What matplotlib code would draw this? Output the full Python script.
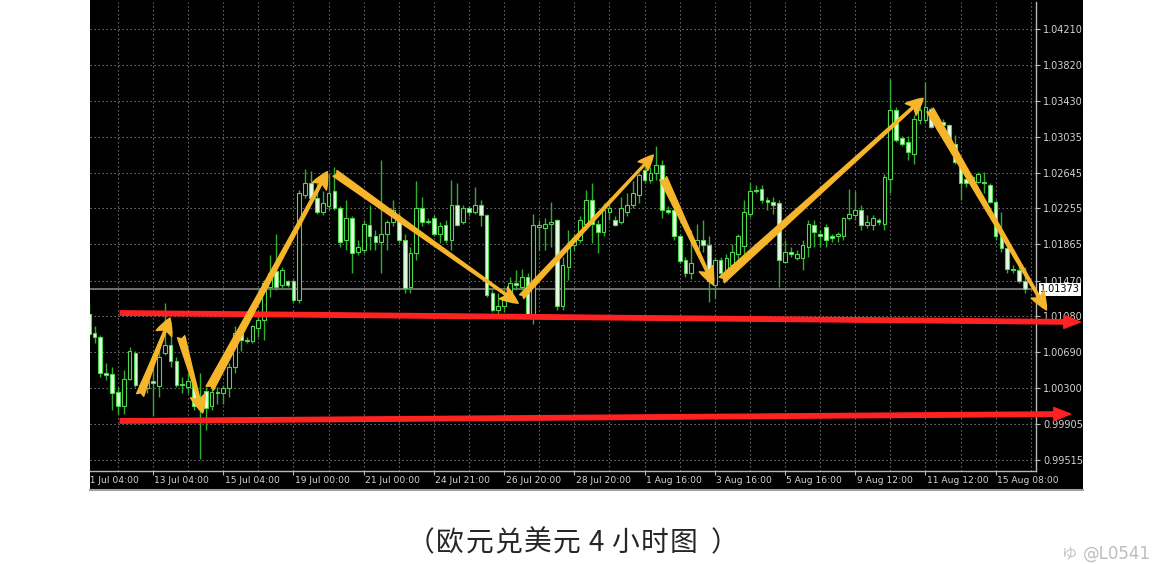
"""EUR/USD 4h candlestick chart with hand-drawn trend arrows (MT4 style)."""
import matplotlib.pyplot as plt
from matplotlib.patches import Rectangle, FancyArrowPatch
from matplotlib.transforms import blended_transform_factory

# ---- data -----------------------------------------------------------------
first_bar = 1
opens = [
    1.0111, 1.0090, 1.0086, 1.0046, 1.0045, 1.0026, 1.0010, 1.0040, 1.0068, 1.0033,
    1.0030, 1.0037, 1.0032, 1.0068, 1.0077, 1.0059, 1.0033, 1.0031, 1.0035, 1.0010,
    1.0027, 1.0010, 1.0026, 1.0024, 1.0030, 1.0053, 1.0090, 1.0082, 1.0081, 1.0095,
    1.0104, 1.0140, 1.0157, 1.0142, 1.0146, 1.0146, 1.0126, 1.0240, 1.0253, 1.0237,
    1.0222, 1.0228, 1.0244, 1.0226, 1.0191, 1.0215, 1.0178, 1.0180, 1.0208, 1.0195,
    1.0189, 1.0198, 1.0211, 1.0215, 1.0191, 1.0140, 1.0177, 1.0226, 1.0211, 1.0215,
    1.0198, 1.0208, 1.0191, 1.0229, 1.0211, 1.0226, 1.0222, 1.0229, 1.0218, 1.0133,
    1.0115, 1.0119, 1.0128, 1.0144, 1.0140, 1.0151, 1.0110, 1.0205, 1.0204, 1.0209,
    1.0213, 1.0119, 1.0162, 1.0186, 1.0191, 1.0209, 1.0235, 1.0209, 1.0200, 1.0222,
    1.0213, 1.0211, 1.0222, 1.0229, 1.0240, 1.0267, 1.0257, 1.0264, 1.0273, 1.0224,
    1.0224, 1.0195, 1.0169, 1.0155, 1.0182, 1.0191, 1.0186, 1.0142, 1.0169, 1.0155,
    1.0164, 1.0176, 1.0185, 1.0220, 1.0245, 1.0247, 1.0235, 1.0233, 1.0231, 1.0167,
    1.0178, 1.0171, 1.0171, 1.0184, 1.0207, 1.0198, 1.0205, 1.0195, 1.0195, 1.0196,
    1.0215, 1.0218, 1.0224, 1.0207, 1.0207, 1.0213, 1.0209, 1.0258, 1.0333, 1.0302,
    1.0298, 1.0285, 1.0322, 1.0322, 1.0334, 1.0316, 1.0320, 1.0316, 1.0296, 1.0274,
    1.0258, 1.0254, 1.0254, 1.0254, 1.0251, 1.0233, 1.0195, 1.0182, 1.0160, 1.0158,
    1.0146,
]
highs = [
    1.0122, 1.0097, 1.0088, 1.0057, 1.0053, 1.0031, 1.0050, 1.0075, 1.0070, 1.0037,
    1.0046, 1.0068, 1.0075, 1.0122, 1.0097, 1.0064, 1.0042, 1.0046, 1.0039, 1.0046,
    1.0031, 1.0030, 1.0031, 1.0033, 1.0057, 1.0097, 1.0093, 1.0086, 1.0098, 1.0111,
    1.0148, 1.0175, 1.0198, 1.0162, 1.0148, 1.0149, 1.0246, 1.0269, 1.0266, 1.0257,
    1.0245, 1.0264, 1.0271, 1.0228, 1.0235, 1.0217, 1.0191, 1.0213, 1.0229, 1.0202,
    1.0278, 1.0213, 1.0235, 1.0222, 1.0198, 1.0184, 1.0255, 1.0238, 1.0215, 1.0218,
    1.0211, 1.0213, 1.0257, 1.0253, 1.0229, 1.0228, 1.0249, 1.0235, 1.0220, 1.0137,
    1.0133, 1.0137, 1.0151, 1.0159, 1.0160, 1.0155, 1.0220, 1.0213, 1.0215, 1.0233,
    1.0214, 1.0173, 1.0202, 1.0198, 1.0217, 1.0246, 1.0253, 1.0213, 1.0231, 1.0231,
    1.0217, 1.0238, 1.0242, 1.0255, 1.0264, 1.0278, 1.0271, 1.0293, 1.0278, 1.0228,
    1.0228, 1.0198, 1.0173, 1.0202, 1.0209, 1.0213, 1.0195, 1.0173, 1.0173, 1.0176,
    1.0187, 1.0198, 1.0235, 1.0253, 1.0251, 1.0251, 1.0238, 1.0238, 1.0235, 1.0191,
    1.0184, 1.0180, 1.0191, 1.0213, 1.0213, 1.0202, 1.0209, 1.0198, 1.0200, 1.0216,
    1.0247, 1.0245, 1.0229, 1.0218, 1.0218, 1.0215, 1.0263, 1.0367, 1.0336, 1.0304,
    1.0304, 1.0327, 1.0336, 1.0363, 1.0336, 1.0325, 1.0323, 1.0318, 1.0305, 1.0278,
    1.0263, 1.0262, 1.0265, 1.0265, 1.0253, 1.0235, 1.0222, 1.0184, 1.0164, 1.0164,
    1.0162,
]
lows = [
    1.0082, 1.0079, 1.0042, 1.0039, 1.0006, 1.0002, 1.0002, 1.0039, 1.0031, 1.0024,
    1.0024, 0.9999, 1.0020, 1.0066, 1.0053, 1.0031, 1.0024, 1.0024, 1.0006, 0.9953,
    0.9984, 1.0006, 1.0013, 1.0013, 1.0020, 1.0046, 1.0070, 1.0079, 1.0079, 1.0086,
    1.0082, 1.0129, 1.0137, 1.0139, 1.0140, 1.0124, 1.0122, 1.0237, 1.0235, 1.0220,
    1.0218, 1.0224, 1.0224, 1.0184, 1.0180, 1.0155, 1.0175, 1.0177, 1.0180, 1.0180,
    1.0155, 1.0180, 1.0206, 1.0188, 1.0133, 1.0133, 1.0169, 1.0206, 1.0209, 1.0195,
    1.0188, 1.0188, 1.0180, 1.0206, 1.0209, 1.0217, 1.0220, 1.0206, 1.0129, 1.0113,
    1.0111, 1.0113, 1.0124, 1.0137, 1.0137, 1.0108, 1.0100, 1.0180, 1.0180, 1.0184,
    1.0115, 1.0115, 1.0148, 1.0180, 1.0188, 1.0202, 1.0188, 1.0177, 1.0195, 1.0213,
    1.0206, 1.0209, 1.0217, 1.0226, 1.0231, 1.0253, 1.0253, 1.0257, 1.0215, 1.0220,
    1.0191, 1.0166, 1.0151, 1.0149, 1.0177, 1.0178, 1.0124, 1.0128, 1.0151, 1.0151,
    1.0158, 1.0169, 1.0176, 1.0216, 1.0242, 1.0231, 1.0224, 1.0220, 1.0140, 1.0166,
    1.0173, 1.0169, 1.0158, 1.0173, 1.0184, 1.0184, 1.0184, 1.0189, 1.0189, 1.0191,
    1.0213, 1.0213, 1.0202, 1.0204, 1.0202, 1.0207, 1.0202, 1.0242, 1.0298, 1.0293,
    1.0278, 1.0274, 1.0318, 1.0320, 1.0313, 1.0311, 1.0314, 1.0293, 1.0274, 1.0235,
    1.0249, 1.0253, 1.0253, 1.0242, 1.0231, 1.0191, 1.0178, 1.0155, 1.0155, 1.0144,
    1.0133,
]
closes = [
    1.0089, 1.0086, 1.0046, 1.0044, 1.0024, 1.0010, 1.0040, 1.0070, 1.0033, 1.0031,
    1.0037, 1.0035, 1.0064, 1.0077, 1.0059, 1.0033, 1.0034, 1.0037, 1.0010, 1.0013,
    1.0008, 1.0026, 1.0024, 1.0030, 1.0053, 1.0090, 1.0082, 1.0081, 1.0097, 1.0104,
    1.0144, 1.0155, 1.0140, 1.0158, 1.0142, 1.0126, 1.0242, 1.0253, 1.0237, 1.0222,
    1.0231, 1.0242, 1.0226, 1.0189, 1.0215, 1.0177, 1.0184, 1.0209, 1.0195, 1.0189,
    1.0198, 1.0211, 1.0224, 1.0191, 1.0139, 1.0177, 1.0226, 1.0211, 1.0212, 1.0198,
    1.0206, 1.0191, 1.0229, 1.0208, 1.0226, 1.0222, 1.0229, 1.0218, 1.0131, 1.0115,
    1.0119, 1.0128, 1.0144, 1.0142, 1.0151, 1.0110, 1.0208, 1.0208, 1.0209, 1.0211,
    1.0119, 1.0164, 1.0188, 1.0193, 1.0213, 1.0235, 1.0209, 1.0200, 1.0224, 1.0226,
    1.0208, 1.0226, 1.0229, 1.0242, 1.0262, 1.0257, 1.0264, 1.0273, 1.0224, 1.0222,
    1.0195, 1.0168, 1.0155, 1.0166, 1.0191, 1.0186, 1.0146, 1.0169, 1.0155, 1.0171,
    1.0178, 1.0195, 1.0222, 1.0245, 1.0246, 1.0235, 1.0232, 1.0229, 1.0169, 1.0178,
    1.0176, 1.0176, 1.0186, 1.0209, 1.0200, 1.0196, 1.0191, 1.0193, 1.0198, 1.0215,
    1.0220, 1.0224, 1.0207, 1.0211, 1.0215, 1.0211, 1.0260, 1.0333, 1.0300, 1.0296,
    1.0287, 1.0323, 1.0333, 1.0336, 1.0314, 1.0318, 1.0316, 1.0296, 1.0276, 1.0253,
    1.0253, 1.0260, 1.0263, 1.0253, 1.0233, 1.0195, 1.0182, 1.0160, 1.0158, 1.0146,
    1.01373,
]

price_ticks = [1.04210, 1.03820, 1.03430, 1.03035, 1.02645, 1.02255, 1.01865,
               1.01470, 1.01080, 1.00690, 1.00300, 0.99905, 0.99515]
tick_bars = [0, 12, 24, 36, 48, 60, 72, 84, 96, 108, 120, 132, 144, 156]
tick_labels = ["11 Jul 04:00", "13 Jul 04:00", "15 Jul 04:00", "19 Jul 00:00",
               "21 Jul 00:00", "24 Jul 21:00", "26 Jul 20:00", "28 Jul 20:00",
               "1 Aug 16:00", "3 Aug 16:00", "5 Aug 16:00", "9 Aug 12:00",
               "11 Aug 12:00", "15 Aug 08:00"]
last_price = 1.01373

# support lines (bar, price) -> (bar, price)
support_lines = [
    ((6.4, 1.01116), (170.5, 1.01018)),
    ((6.4, 0.99940), (168.8, 1.00016)),
]
# swing arrows (bar, price) tail -> head
swing_arrows = [
    ((9.8, 1.00223), (14.9, 1.01062)),
    ((16.8, 1.00858), (20.5, 1.00027)),
    ((21.7, 1.00296), (41.8, 1.02656)),
    ((43.1, 1.02638), (74.4, 1.01222)),
    ((75.0, 1.01294), (97.5, 1.02837)),
    ((99.2, 1.02584), (107.8, 1.01421)),
    ((109.2, 1.01476), (143.6, 1.03455)),
    ((144.8, 1.03328), (164.7, 1.01149)),
]

caption_chars = ["（", "欧", "元", "兑", "美", "元", "4", "小", "时", "图", "）"]

# ---- layout helpers ---------------------------------------------------------
W, H = 1170, 564


def px_box(x0, y0, x1, y1):
    return [x0 / W, 1 - y1 / H, (x1 - x0) / W, (y1 - y0) / H]


WICK = "#2fae2f"
EDGE = "#4fd84f"
BEAR_FILL = "#e4fbe0"
AXIS_GREY = "#b8b8b8"
LABEL_GREY = "#d4d4d4"
GRID_GREY = "#7c7c7c"
ARROW_YELLOW = "#f6b52a"
ARROW_RED = "#ff2222"

fig = plt.figure(figsize=(W / 100, H / 100), dpi=100)
fig.patch.set_facecolor("white")

frame = fig.add_axes(px_box(90, 0, 1083, 490))
frame.set_facecolor("black")
frame.set_xticks([])
frame.set_yticks([])
for name, sp in frame.spines.items():
    sp.set_visible(name == "bottom")
frame.spines["bottom"].set_color("#a0a0a0")
frame.spines["bottom"].set_linewidth(1.5)

ax = fig.add_axes(px_box(90, 2, 1036, 471))
ax.set_facecolor("black")
ax.set_xlim(1.23, 162.9)
ax.set_ylim(0.99395, 1.04504)

for name in ("left", "top"):
    ax.spines[name].set_visible(False)
for name in ("right", "bottom"):
    ax.spines[name].set_color(AXIS_GREY)
    ax.spines[name].set_linewidth(1)

# grid
for b in range(0, 166, 6):
    ax.axvline(b, color=GRID_GREY, lw=0.8, ls=(0, (1.2, 2.4)), zorder=1)
for p in price_ticks:
    ax.axhline(p, color=GRID_GREY, lw=0.8, ls=(0, (1.2, 2.4)), zorder=1)

# y axis on the right
ax.yaxis.tick_right()
ax.set_yticks(price_ticks)
ax.set_yticklabels([f"{p:.5f}" for p in price_ticks])
ax.tick_params(axis="y", color=AXIS_GREY, labelcolor=LABEL_GREY, labelsize=7,
               length=3, pad=2, labelfontfamily="DejaVu Sans")

# x ticks, labels drawn by hand so the first one gets cut like the screenshot
ax.set_xticks(tick_bars[1:])
ax.set_xticklabels([""] * (len(tick_bars) - 1))
ax.tick_params(axis="x", color=AXIS_GREY, length=3)
lab_tr = blended_transform_factory(ax.transData, ax.transAxes)
for b, lab in zip(tick_bars, tick_labels):
    t = ax.text(b + 0.25, -0.0195, lab, transform=lab_tr, ha="left", va="center",
                fontsize=6.6, color=LABEL_GREY, family="DejaVu Sans")
    t.set_clip_path(frame.patch)
    t.set_clip_on(True)

# candles
for k in range(len(closes)):
    b = first_bar + k
    o, h, l, c = opens[k], highs[k], lows[k], closes[k]
    ax.vlines(b, l, h, color=WICK, lw=1, zorder=2)
    body_lo = min(o, c)
    body_h = max(abs(c - o), 0.00004)
    fill = "black" if c >= o else BEAR_FILL
    ax.add_patch(Rectangle((b - 0.32, body_lo), 0.64, body_h, facecolor=fill,
                           edgecolor=EDGE, lw=0.8, zorder=3))

# current price
ax.axhline(last_price, color="#8e8e8e", lw=1.1, zorder=1.5)
ax.text(1.0045, last_price, f"{last_price:.5f}",
        transform=blended_transform_factory(ax.transAxes, ax.transData),
        ha="left", va="center", fontsize=7, color="black", clip_on=False, zorder=6,
        family="DejaVu Sans",
        bbox=dict(boxstyle="square,pad=0.12", fc="white", ec="none"))

# red support arrows
for tail, head in support_lines:
    ax.add_patch(FancyArrowPatch(
        tail, head, arrowstyle="simple,head_length=1.2,head_width=0.95,tail_width=0.32",
        mutation_scale=10, color=ARROW_RED, shrinkA=0, shrinkB=0,
        clip_on=False, zorder=5))

# yellow swing arrows
arrow_sizes = [(0.55, 1.2, 1.2), (0.55, 1.1, 1.3), (0.6, 1.15, 1.2), (0.5, 1.05, 1.3),
               (0.4, 0.95, 1.1), (0.55, 1.05, 1.3), (0.55, 1.15, 1.2), (0.55, 1.05, 1.3)]
for (tail, head), (tw, hw, hl) in zip(swing_arrows, arrow_sizes):
    ax.add_patch(FancyArrowPatch(
        tail, head,
        arrowstyle=f"fancy,head_length={hl},head_width={hw},tail_width={tw}",
        mutation_scale=10, color=ARROW_YELLOW, shrinkA=0, shrinkB=0,
        clip_on=False, zorder=6))

# caption: wide letter spacing like the original typeset line
cap_x0, cap_pitch = 421, 29.2
for k, ch in enumerate(caption_chars):
    x = cap_x0 + cap_pitch * k + (12 if ch == "）" else 0)
    fig.text(x / W, 1 - 543 / H, ch, ha="center", va="center", fontsize=20,
             color="#262626", family=["Noto Sans CJK SC", "DejaVu Sans"],
             fontweight="light")

fig.text(1062 / W, 1 - 554 / H, "ゆ", ha="left", va="center", fontsize=11,
         color="#c4c4c4", family=["Noto Sans CJK JP", "DejaVu Sans"])
fig.text(1083 / W, 1 - 554 / H, "@L0541", ha="left", va="center", fontsize=12,
         color="#bdbdbd", family="DejaVu Sans")

fig.savefig("out.png", dpi=100, facecolor="white")
